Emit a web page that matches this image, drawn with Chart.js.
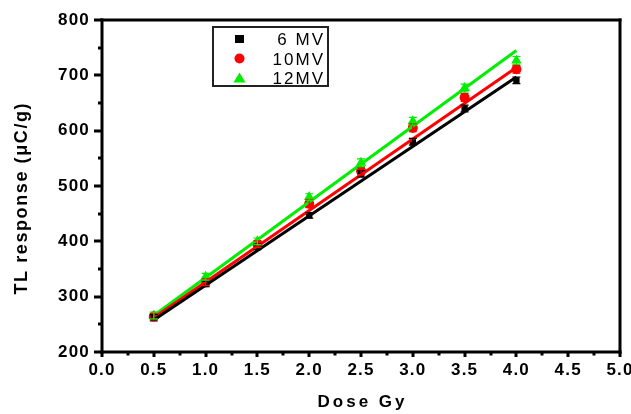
<!DOCTYPE html>
<html><head><meta charset="utf-8">
<script src="https://cdn.jsdelivr.net/npm/chart.js@4"></script>
<style>html,body{margin:0;padding:0;background:#fff}#wrap{width:631px;height:414px}</style>
</head><body><div id="wrap"><canvas id="c" width="631" height="414"></canvas></div>
<script>
const doses = [0.5, 1.0, 1.5, 2.0, 2.5, 3.0, 3.5, 4.0];
const mv6  = [262, 323, 390, 447, 522, 580, 640, 691];
const mv10 = [264, 326, 395, 468, 527, 605, 660, 711];
const mv12 = [266, 336, 400, 480, 542, 617, 677, 727];
const err6  = [6, 5, 5, 5, 6, 6, 6, 6];
const err10 = [6, 6, 6, 7, 7, 7, 7, 7];
const err12 = [6, 6, 6, 6, 7, 7, 7, 7];
const fitX = [0.5, 4.0];
const fit6  = [258, 697];
const fit10 = [262, 714];
const fit12 = [266, 745];
const seriesLabels = ['6 MV', '10MV', '12MV'];
const colors = ['#000000', '#ff0000', '#00ee00'];
const xTicks = [0, 0.5, 1, 1.5, 2, 2.5, 3, 3.5, 4, 4.5, 5];
const yTicks = [200, 300, 400, 500, 600, 700, 800];
const xTitle = 'Dose Gy';
const yTitle = 'TL response (\u03bcC/g)';

const pts = (xs, ys) => xs.map((x, i) => ({x, y: ys[i]}));
const FONT = '"Liberation Sans", Arial, sans-serif';

const spacingPlugin = {
  id: 'spacing',
  beforeDraw(chart) { chart.ctx.letterSpacing = '1.2px'; }
};

const errPlugin = {
  id: 'errs',
  afterDatasetsDraw(chart) {
    const ctx = chart.ctx, xs = chart.scales.x, ys = chart.scales.y;
    const sets = [[mv6, err6, colors[0]], [mv10, err10, colors[1]], [mv12, err12, colors[2]]];
    ctx.save();
    ctx.lineWidth = 1.2;
    sets.forEach(([vals, errs, col]) => {
      ctx.strokeStyle = col;
      doses.forEach((d, i) => {
        const px = xs.getPixelForValue(d);
        const y1 = ys.getPixelForValue(vals[i] + errs[i]);
        const y2 = ys.getPixelForValue(vals[i] - errs[i]);
        ctx.beginPath();
        ctx.moveTo(px, y1); ctx.lineTo(px, y2);
        ctx.moveTo(px - 4, y1); ctx.lineTo(px + 4, y1);
        ctx.moveTo(px - 4, y2); ctx.lineTo(px + 4, y2);
        ctx.stroke();
      });
    });
    ctx.restore();
  }
};

const framePlugin = {
  id: 'frame',
  afterDraw(chart) {
    const ctx = chart.ctx, a = chart.chartArea, xs = chart.scales.x, ys = chart.scales.y;
    ctx.save();
    ctx.globalAlpha = 1;
    ctx.fillStyle = '#000';
    const L = Math.round(a.left), R = Math.round(a.right), T = Math.round(a.top), B = Math.round(a.bottom);
    ctx.fillRect(L - 1.5, T - 1.5, R - L + 3, 3);
    ctx.fillRect(L - 1.5, B - 1.5, R - L + 3, 3);
    ctx.fillRect(L - 1.5, T - 1.5, 3, B - T + 3);
    ctx.fillRect(R - 1.5, T - 1.5, 3, B - T + 3);
    for (let k = 0; k <= 20; k++) {
      const v = k * 0.25;
      const px = Math.round(xs.getPixelForValue(v));
      const major = k % 2 === 0;
      ctx.fillRect(px - 1.5, B, 3, major ? 5 : 3.5);
    }
    for (let v = 200; v <= 800; v += 50) {
      const py = Math.round(ys.getPixelForValue(v));
      const major = v % 100 === 0;
      const len = major ? 8 : 4;
      ctx.fillRect(L - len, py - 1.5, len, 3);
    }
    // axis titles
    ctx.font = 'bold 17px ' + FONT;
    ctx.letterSpacing = '3px';
    ctx.textAlign = 'center';
    ctx.textBaseline = 'alphabetic';
    ctx.fillText(xTitle, (a.left + a.right) / 2 + 1.5, 407);
    ctx.save();
    ctx.translate(27, 199);
    ctx.rotate(-Math.PI / 2);
    ctx.font = 'bold 18px ' + FONT;
    ctx.letterSpacing = '1.6px';
    ctx.fillText(yTitle, 0.8, 0);
    ctx.restore();
    // legend
    const lx = 212, ly = 26, lw = 115, lh = 59;
    ctx.fillStyle = '#222';
    ctx.fillRect(lx, ly, lw, 2);
    ctx.fillRect(lx, ly + lh, lw + 2, 2);
    ctx.fillRect(lx, ly, 2, lh);
    ctx.fillRect(lx + lw, ly, 2, lh + 2);
    ctx.font = '17px ' + FONT;
    ctx.letterSpacing = '2px';
    ctx.textAlign = 'right';
    ctx.textBaseline = 'alphabetic';
    const rows = [39, 58.5, 78];
    rows.forEach((ry, i) => {
      const mx = 239.5;
      ctx.fillStyle = colors[i];
      if (i === 0) ctx.fillRect(mx - 4.5, ry - 4, 9, 8);
      else if (i === 1) { ctx.beginPath(); ctx.arc(mx, ry, 5, 0, Math.PI * 2); ctx.fill(); }
      else { ctx.beginPath(); ctx.moveTo(mx, ry - 5.5); ctx.lineTo(mx + 6, ry + 4.5); ctx.lineTo(mx - 6, ry + 4.5); ctx.closePath(); ctx.fill(); }
      ctx.fillStyle = '#000';
      ctx.fillText(seriesLabels[i], 325, ry + 6);
    });
    ctx.restore();
  }
};

new Chart(document.getElementById('c'), {
  type: 'scatter',
  data: {
    datasets: [
      {label: 'fit6', data: pts(fitX, fit6), type: 'line', borderColor: colors[0], borderWidth: 3, pointRadius: 0, fill: false},
      {label: 'fit10', data: pts(fitX, fit10), type: 'line', borderColor: colors[1], borderWidth: 3, pointRadius: 0, fill: false},
      {label: 'fit12', data: pts(fitX, fit12), type: 'line', borderColor: colors[2], borderWidth: 3, pointRadius: 0, fill: false},
      {label: seriesLabels[0], data: pts(doses, mv6), pointStyle: 'rect', pointRadius: 4.5, backgroundColor: colors[0], borderColor: colors[0], borderWidth: 0},
      {label: seriesLabels[1], data: pts(doses, mv10), pointStyle: 'circle', pointRadius: 5, backgroundColor: colors[1], borderColor: colors[1], borderWidth: 0},
      {label: seriesLabels[2], data: pts(doses, mv12), pointStyle: 'triangle', pointRadius: 6, backgroundColor: colors[2], borderColor: colors[2], borderWidth: 0}
    ]
  },
  options: {
    responsive: false,
    animation: false,
    layout: {autoPadding: false, padding: {top: 20, right: 11, left: 0, bottom: 0}},
    plugins: {legend: {display: false}, tooltip: {enabled: false}},
    scales: {
      x: {
        type: 'linear', min: 0, max: 5,
        afterBuildTicks: s => { s.ticks = xTicks.map(v => ({value: v})); },
        afterFit: s => { s.height = 62; s.paddingLeft = 0; s.paddingRight = 0; },
        grid: {display: false, drawTicks: false},
        border: {display: false},
        ticks: {color: '#000', font: {family: FONT, size: 17, weight: 'bold'}, padding: 8, maxRotation: 0,
                callback: v => Number(v).toFixed(1)},
        title: {display: false}
      },
      y: {
        type: 'linear', min: 200, max: 800,
        afterBuildTicks: s => { s.ticks = yTicks.map(v => ({value: v})); },
        afterFit: s => { s.width = 102; s.paddingTop = 0; s.paddingBottom = 0; },
        grid: {display: false, drawTicks: false},
        border: {display: false},
        ticks: {color: '#000', font: {family: FONT, size: 17, weight: 'bold'}, padding: 12},
        title: {display: false}
      }
    }
  },
  plugins: [spacingPlugin, errPlugin, framePlugin]
});
</script></body></html>
